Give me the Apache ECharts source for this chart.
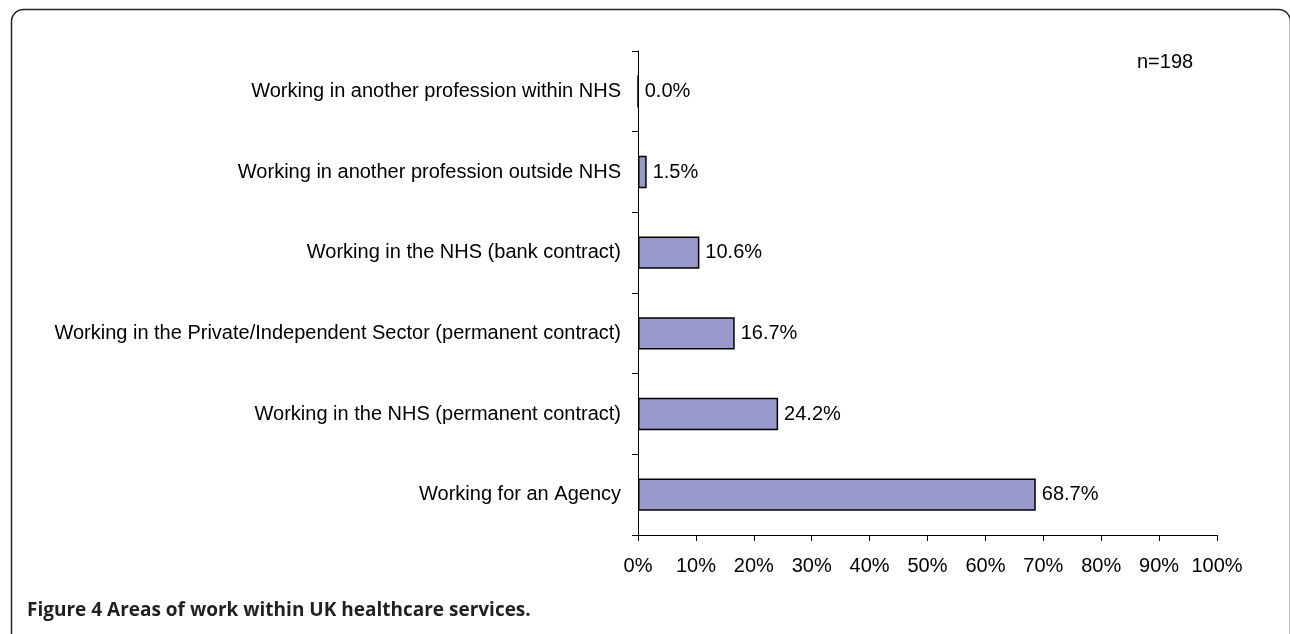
<!DOCTYPE html>
<html>
<head>
<meta charset="utf-8">
<script src="https://cdn.jsdelivr.net/npm/echarts@6/dist/echarts.min.js"></script>
<style>
html,body{margin:0;padding:0;background:#fff;}
#chart{width:1290px;height:634px;}
</style>
</head>
<body>
<div id="chart"></div>
<script>
var categories = [
  "Working in another profession within NHS",
  "Working in another profession outside NHS",
  "Working in the NHS (bank contract)",
  "Working in the Private/Independent Sector (permanent contract)",
  "Working in the NHS (permanent contract)",
  "Working for an Agency"
];
var values = [0.0, 1.5, 10.6, 16.7, 24.2, 68.7];
var sampleNote = "n=198";
var caption = "Figure 4";
var captionRest = " Areas of work within UK healthcare services.";

var chart = echarts.init(document.getElementById('chart'), null, {renderer: 'canvas'});
var FONT = '"Liberation Sans", Arial, sans-serif';
var FS = 20;
var option = {
  backgroundColor: '#ffffff',
  animation: false,
  grid: {left: 638, right: 73, top: 51, bottom: 99, containLabel: false},
  xAxis: {
    type: 'value', min: 0, max: 100, interval: 10,
    axisLine: {show: true, lineStyle: {color: '#000', width: 1}},
    axisTick: {show: true, length: 6, lineStyle: {color: '#000'}},
    splitLine: {show: false},
    axisLabel: {formatter: '{value}%', fontSize: FS, fontFamily: FONT, color: '#000', margin: 21}
  },
  yAxis: {
    type: 'category', data: categories, inverse: true,
    axisLine: {show: true, lineStyle: {color: '#000', width: 1}},
    axisTick: {show: true, length: 6, lineStyle: {color: '#000'}},
    axisLabel: {fontSize: FS, fontFamily: FONT, color: '#000', margin: 17}
  },
  series: [{
    type: 'bar', data: values, barWidth: '40%',
    itemStyle: {color: '#9999cc', borderColor: '#000', borderWidth: 1.5},
    label: {show: true, position: 'right', distance: 6, fontSize: FS, fontFamily: FONT, color: '#000',
      formatter: function(p){ return p.value.toFixed(1) + '%'; }}
  }],
  graphic: [
    {type: 'rect', left: 9, top: 7, z: -1, silent: true,
      shape: {width: 1279, height: 700, r: 12},
      style: {fill: 'none', stroke: '#222', lineWidth: 1.5}},
    {type: 'text', left: 1137, top: 52,
      style: {text: sampleNote, font: FS + 'px ' + FONT, fill: '#000'}},
    {type: 'text', left: 27, top: 601,
      style: {text: caption + captionRest, font: 'bold 19px "Open Sans", sans-serif', fill: '#231f20'}}
  ]
};
chart.setOption(option);
</script>
</body>
</html>
